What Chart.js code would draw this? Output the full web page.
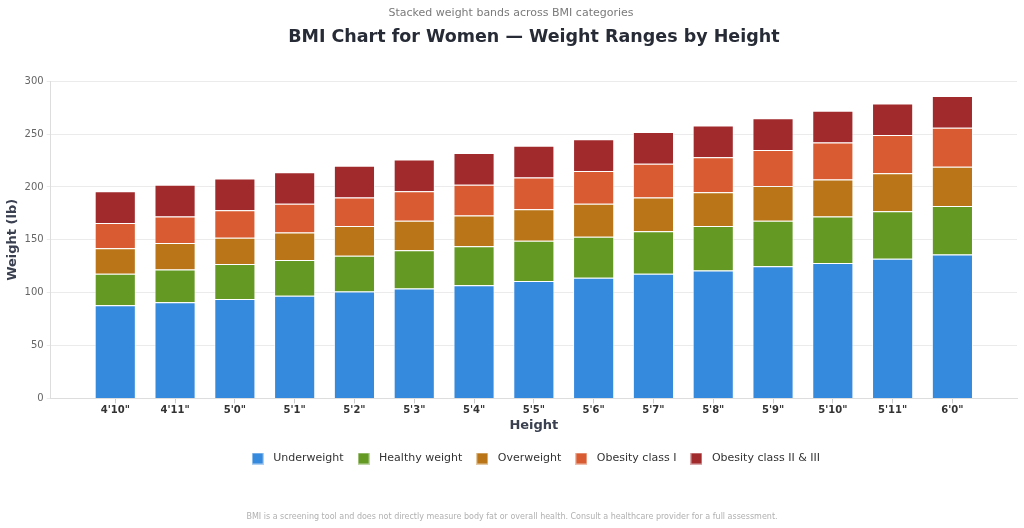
<!DOCTYPE html>
<html>
<head>
<meta charset="utf-8">
<script src="https://cdn.jsdelivr.net/npm/chart.js@4.4.1/dist/chart.umd.min.js"></script>
<style>
  html, body { margin: 0; padding: 0; background: #ffffff; }
  #wrap { width: 1024px; height: 528px; position: relative; }
</style>
</head>
<body>
<div id="wrap"><canvas id="c"></canvas></div>
<script>
const heights = ["4'10\"", "4'11\"", "5'0\"", "5'1\"", "5'2\"", "5'3\"", "5'4\"", "5'5\"", "5'6\"", "5'7\"", "5'8\"", "5'9\"", "5'10\"", "5'11\"", "6'0\""];
const underweight = [88, 91, 94, 97, 101, 104, 107, 111, 114, 118, 121, 125, 128, 132, 136];
const healthy     = [30, 31, 33, 34, 34, 36, 37, 38, 39, 40, 42, 43, 44, 45, 46];
const overweight  = [24, 25, 25, 26, 28, 28, 29, 30, 31, 32, 32, 33, 35, 36, 37];
const obesity1    = [24, 25, 26, 27, 27, 28, 29, 30, 31, 32, 33, 34, 35, 36, 37];
const obesity23   = [30, 30, 30, 30, 30, 30, 30, 30, 30, 30, 30, 30, 30, 30, 30];
const yTicks = [0, 50, 100, 150, 200, 250, 300];

const seriesNames = ["Underweight", "Healthy weight", "Overweight", "Obesity class I", "Obesity class II & III"];
const seriesColors = ["#368ADE", "#649A23", "#B97517", "#D95B31", "#A12A2D"];
const seriesValues = [underweight, healthy, overweight, obesity1, obesity23];

const FONT = "'DejaVu Sans', 'Liberation Sans', sans-serif";

// legend swatches (12x12 squares)
const swatches = seriesColors.map(col => {
  const cv = document.createElement('canvas');
  cv.width = 12; cv.height = 12;
  const g = cv.getContext('2d');
  g.fillStyle = col;
  g.fillRect(0, 0, 12, 12);
  g.strokeStyle = 'rgba(255,255,255,0.6)';
  g.lineWidth = 1;
  g.strokeRect(0.5, 0.5, 11, 11);
  return cv;
});

const footerPlugin = {
  id: 'footerNote',
  afterDraw(chart) {
    const ctx = chart.ctx;
    ctx.save();
    ctx.font = "8px " + FONT;
    ctx.fillStyle = "#b0b0b0";
    ctx.textAlign = "center";
    ctx.textBaseline = "middle";
    ctx.fillText("BMI is a screening tool and does not directly measure body fat or overall health. Consult a healthcare provider for a full assessment.", chart.width / 2, 517);
    ctx.restore();
  }
};

new Chart(document.getElementById('c'), {
  type: 'bar',
  data: {
    labels: heights.map((h, i) => i),
    datasets: seriesNames.map((name, k) => ({
      label: name,
      data: seriesValues[k],
      backgroundColor: seriesColors[k],
      borderColor: 'rgba(255,255,255,0.6)',
      borderWidth: 1,
      categoryPercentage: 0.86,
      barPercentage: 0.8
    }))
  },
  options: {
    responsive: true,
    maintainAspectRatio: false,
    animation: false,
    layout: { padding: { left: 5, right: 7, top: 7, bottom: 54 } },
    plugins: {
      subtitle: {
        display: true,
        text: 'Stacked weight bands across BMI categories',
        color: '#7a7a7a',
        font: { family: FONT, size: 11, weight: 'normal' },
        padding: { top: 0, bottom: 4 },
        weight: 2500
      },
      title: {
        display: true,
        fullSize: false,
        text: 'BMI Chart for Women \u2014 Weight Ranges by Height',
        color: '#262b36',
        font: { family: FONT, size: 17.5, weight: 'bold' },
        padding: { top: 3, bottom: 33 }
      },
      legend: {
        position: 'bottom',
        fullSize: false,
        labels: {
          color: '#333333',
          font: { family: FONT, size: 11 },
          usePointStyle: true,
          pointStyleWidth: 20,
          boxHeight: 12,
          padding: 10,
          generateLabels(chart) {
            const items = Chart.defaults.plugins.legend.labels.generateLabels(chart);
            items.forEach((it, i) => { it.pointStyle = swatches[i]; });
            return items;
          }
        }
      },
      tooltip: { enabled: true }
    },
    scales: {
      x: {
        type: 'linear',
        stacked: true,
        min: -1.08,
        max: 15.08,
        offset: false,
        afterBuildTicks(axis) {
          axis.ticks = heights.map((h, i) => ({ value: i }));
        },
        ticks: {
          autoSkip: false,
          maxRotation: 0,
          color: '#333333',
          font: { family: FONT, size: 10, weight: 'bold' },
          padding: 1,
          callback: (v) => heights[v] !== undefined ? heights[v] : ''
        },
        grid: { display: true, offset: false, drawOnChartArea: false, color: '#cccccc', tickLength: 5 },
        border: { color: '#dddddd' },
        title: {
          display: true,
          text: 'Height',
          color: '#3a4050',
          font: { family: FONT, size: 13, weight: 'bold' },
          padding: { top: 0, bottom: 10 }
        }
      },
      y: {
        stacked: true,
        min: 0,
        max: 300,
        afterBuildTicks(axis) {
          axis.ticks = yTicks.map(v => ({ value: v }));
        },
        ticks: {
          color: '#666666',
          font: { family: FONT, size: 10 },
          padding: 3
        },
        grid: { color: '#ebebeb', tickLength: 4 },
        border: { color: '#dddddd' },
        title: {
          display: true,
          text: 'Weight (lb)',
          color: '#3a4050',
          font: { family: FONT, size: 13, weight: 'bold' },
          padding: { top: 0, bottom: 1 }
        }
      }
    }
  },
  plugins: [footerPlugin]
});
</script>
</body>
</html>
